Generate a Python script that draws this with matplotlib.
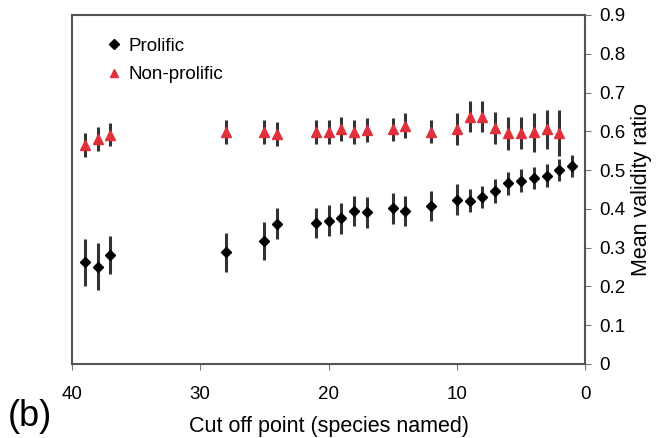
import matplotlib
matplotlib.use("Agg")
import matplotlib.pyplot as plt
from matplotlib.lines import Line2D

plt.rcParams['font.family'] = ['Liberation Sans', 'DejaVu Sans']

# prolific authors
cut_pro = [39, 38, 37, 28, 25, 24, 21, 20, 19, 18, 17, 15, 14, 12, 10, 9, 8, 7, 6, 5, 4, 3, 2, 1]
mean_pro = [0.262, 0.251, 0.281, 0.288, 0.317, 0.362, 0.363, 0.370, 0.376, 0.395, 0.391, 0.401,
            0.395, 0.408, 0.423, 0.421, 0.431, 0.446, 0.466, 0.473, 0.480, 0.486, 0.500, 0.511]
err_pro = [0.060, 0.060, 0.050, 0.050, 0.050, 0.040, 0.038, 0.040, 0.040, 0.039, 0.040, 0.039,
           0.039, 0.039, 0.040, 0.029, 0.029, 0.030, 0.030, 0.029, 0.029, 0.030, 0.029, 0.029]

# non-prolific authors
cut_non = [39, 38, 37, 28, 25, 24, 21, 20, 19, 18, 17, 15, 14, 12, 10, 9, 8, 7, 6, 5, 4, 3, 2]
mean_non = [0.565, 0.579, 0.591, 0.597, 0.599, 0.592, 0.597, 0.599, 0.605, 0.597, 0.603, 0.605,
            0.614, 0.599, 0.606, 0.638, 0.638, 0.609, 0.595, 0.596, 0.597, 0.605, 0.595]
err_non = [0.031, 0.031, 0.030, 0.031, 0.031, 0.031, 0.031, 0.031, 0.031, 0.031, 0.031, 0.030,
           0.032, 0.030, 0.041, 0.041, 0.040, 0.042, 0.042, 0.041, 0.051, 0.051, 0.059]

red = '#e0303c'
bar_col = '#333333'

fig = plt.figure(figsize=(6.65, 4.38), dpi=100)
ax = fig.add_axes([0.1083, 0.169, 0.7714, 0.7968])

ax.errorbar(cut_non, mean_non, yerr=err_non, fmt='^', color=red, ms=6.5,
            ecolor=bar_col, elinewidth=2.2, capsize=0, zorder=3)
ax.errorbar(cut_pro, mean_pro, yerr=err_pro, fmt='D', color='black', ms=5,
            ecolor=bar_col, elinewidth=2.2, capsize=0, zorder=3)

ax.set_xlim(40, 0)
ax.set_ylim(0, 0.9)
ax.set_xticks([40, 30, 20, 10, 0])
ax.set_yticks([i / 10 for i in range(10)])
ax.set_yticklabels(['0'] + ['0.%d' % i for i in range(1, 10)])

ax.yaxis.tick_right()
ax.yaxis.set_label_position('right')
ax.tick_params(axis='y', direction='out', length=4, pad=6, labelsize=13.5, color='#777777')
ax.tick_params(axis='x', direction='out', length=4, pad=12, labelsize=13.5, color='#777777')

for s in ax.spines.values():
    s.set_color('#555555')
    s.set_linewidth(1.5)

ax.set_xlabel('Cut off point (species named)', fontsize=15.5, labelpad=9)
ax.set_ylabel('Mean validity ratio', fontsize=15.5, labelpad=4)

handles = [Line2D([], [], ls='none', marker='D', color='black', ms=5),
           Line2D([], [], ls='none', marker='^', color=red, ms=5.5)]
ax.legend(handles, ['Prolific', 'Non-prolific'], loc='upper left', frameon=False,
          bbox_to_anchor=(0.068, 0.935), borderaxespad=0, borderpad=0,
          fontsize=13.5, handletextpad=0.37, handlelength=0.8, labelspacing=0.6)

fig.text(0.012, 0.05, '(b)', fontsize=26, va='center')

fig.savefig('out.png', dpi=100)
